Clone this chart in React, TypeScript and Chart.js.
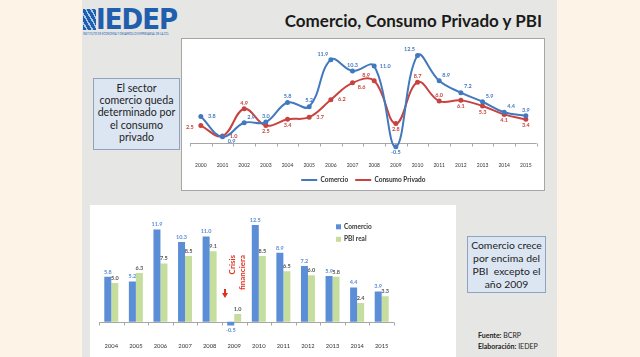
import React, { useEffect, useRef } from "react";
import { Chart, registerables } from "chart.js";

Chart.register(...registerables);

// ---------- DATA ----------
const lineYears = ["2000", "2001", "2002", "2003", "2004", "2005", "2006", "2007", "2008", "2009", "2010", "2011", "2012", "2013", "2014", "2015"];
const comercioLine = [3.8, 0.9, 2.9, 3.0, 5.8, 5.2, 11.9, 10.3, 11.0, -0.5, 12.5, 8.9, 7.2, 5.9, 4.4, 3.9];
const consumoPrivado = [2.5, 1.0, 4.9, 2.5, 3.4, 3.7, 6.2, 8.6, 8.9, 2.8, 8.7, 6.0, 6.1, 5.3, 4.1, 3.4];
const comercioLabelPos = ["r", "br", "tr", "t", "t", "t", "tl", "t", "r", "b", "tl", "tr", "tr", "tr", "tr", "t"];
const consumoLabelPos = ["l", "r", "t", "b", "b", "r", "r", "br", "tl", "b", "t", "t", "b", "b", "b", "b"];

const barYears = ["2004", "2005", "2006", "2007", "2008", "2009", "2010", "2011", "2012", "2013", "2014", "2015"];
const comercioBar = [5.8, 5.2, 11.9, 10.3, 11.0, -0.5, 12.5, 8.9, 7.2, 5.9, 4.4, 3.9];
const pbiReal = [5.0, 6.3, 7.5, 8.5, 9.1, 1.0, 8.5, 6.5, 6.0, 5.8, 2.4, 3.3];

// ---------- STYLE ----------
const BLUE_LINE = "#4279BE";
const RED_LINE = "#C8433F";
const BLUE_BAR = "#5B8ED6";
const GREEN_BAR = "#C5DE9E";
const FONT = "Lato, 'Open Sans', sans-serif";

const OFFSETS: Record<string, [number, number]> = {
  t: [0, -6],
  b: [0, 6],
  l: [-11, 2],
  r: [11, 0],
  tl: [-8, -6],
  tr: [7, -6],
  br: [9, 4],
};

// zero line + category tick marks
const zeroAxisPlugin = {
  id: "zeroAxis",
  beforeDatasetsDraw(chart: any) {
    const { ctx, chartArea, scales } = chart;
    const y0 = Math.round(scales.y.getPixelForValue(0)) + 0.5;
    const n = chart.data.labels.length;
    const w = (chartArea.right - chartArea.left) / n;
    ctx.save();
    ctx.strokeStyle = "#A6A6A6";
    ctx.lineWidth = 1;
    ctx.beginPath();
    ctx.moveTo(chartArea.left, y0);
    ctx.lineTo(chartArea.right, y0);
    for (let i = 0; i <= n; i++) {
      const x = Math.round(chartArea.left + i * w) + 0.5;
      ctx.moveTo(x, y0);
      ctx.lineTo(x, y0 + 3);
    }
    ctx.stroke();
    ctx.restore();
  },
};

type LabelSet = { color: string; font: string; pos?: string[] };

function makeLabelPlugin(sets: LabelSet[], mode: "line" | "bar") {
  return {
    id: "valueLabels",
    afterDatasetsDraw(chart: any) {
      const ctx = chart.ctx;
      chart.data.datasets.forEach((ds: any, di: number) => {
        const meta = chart.getDatasetMeta(di);
        const cfg = sets[di];
        ctx.save();
        ctx.font = cfg.font;
        ctx.fillStyle = cfg.color;
        ctx.textAlign = "center";
        ctx.textBaseline = "middle";
        meta.data.forEach((el: any, i: number) => {
          const v = ds.data[i] as number;
          let x = el.x;
          let y = el.y;
          if (mode === "bar") {
            y = v >= 0 ? el.y - 5 : el.y + 5;
          } else {
            const o = OFFSETS[(cfg.pos && cfg.pos[i]) || "t"];
            x += o[0];
            y += o[1];
          }
          ctx.fillText(v.toFixed(1), x, y);
        });
        ctx.restore();
      });
    },
  };
}

const barLegendPlugin = {
  id: "barLegend",
  afterDraw(chart: any) {
    const { ctx, chartArea } = chart;
    const x = chartArea.right - 58;
    chart.data.datasets.forEach((ds: any, i: number) => {
      const y = chartArea.top + 13.5 + i * 12.5;
      ctx.save();
      ctx.fillStyle = ds.backgroundColor;
      ctx.fillRect(x, y - 2.5, 5, 5);
      ctx.fillStyle = "#333";
      ctx.font = `bold 6.5px ${FONT}`;
      ctx.textAlign = "left";
      ctx.textBaseline = "middle";
      ctx.fillText(ds.label, x + 8, y);
      ctx.restore();
    });
  },
};

function LineChart() {
  const ref = useRef<HTMLCanvasElement>(null);
  useEffect(() => {
    const chart = new Chart(ref.current as HTMLCanvasElement, {
      type: "line",
      data: {
        labels: lineYears,
        datasets: [
          {
            label: "Comercio",
            data: comercioLine,
            borderColor: BLUE_LINE,
            backgroundColor: BLUE_LINE,
            borderWidth: 2,
            pointRadius: 1.5,
            pointBackgroundColor: BLUE_LINE,
            tension: 0.4,
          },
          {
            label: "Consumo Privado",
            data: consumoPrivado,
            borderColor: RED_LINE,
            backgroundColor: RED_LINE,
            borderWidth: 2,
            pointRadius: 1.5,
            pointBackgroundColor: RED_LINE,
            tension: 0.4,
          },
        ],
      },
      options: {
        responsive: false,
        animation: false,
        layout: { padding: { left: 8, right: 7.3, top: 5.6, bottom: 0.75 } },
        scales: {
          x: {
            offset: true,
            grid: { display: false, drawTicks: false },
            border: { display: false },
            ticks: { font: { family: FONT, size: 5 }, color: "#333", padding: 5.6, maxRotation: 0, autoSkip: false },
            afterFit: (s: any) => {
              s.height = 12.6;
            },
          },
          y: { display: false, min: -2, max: 14 },
        },
        plugins: {
          legend: {
            position: "bottom",
            labels: {
              usePointStyle: true,
              pointStyle: "line",
              pointStyleWidth: 16,
              padding: 7,
              color: "#333",
              font: { family: FONT, size: 6.5, weight: "bold" },
            },
          },
          tooltip: { enabled: false },
        },
      } as any,
      plugins: [
        zeroAxisPlugin,
        makeLabelPlugin(
          [
            { color: BLUE_LINE, font: `bold 5.5px ${FONT}`, pos: comercioLabelPos },
            { color: RED_LINE, font: `bold 5.5px ${FONT}`, pos: consumoLabelPos },
          ],
          "line"
        ),
      ],
    });
    return () => chart.destroy();
  }, []);
  return (
    <canvas
      ref={ref}
      width={362}
      height={155}
      style={{ position: "absolute", left: 182, top: 39, width: 362, height: 155 }}
    />
  );
}

function BarChart() {
  const ref = useRef<HTMLCanvasElement>(null);
  useEffect(() => {
    const chart = new Chart(ref.current as HTMLCanvasElement, {
      type: "bar",
      data: {
        labels: barYears,
        datasets: [
          {
            label: "Comercio",
            data: comercioBar,
            backgroundColor: BLUE_BAR,
            categoryPercentage: 0.57,
            barPercentage: 1,
          },
          {
            label: "PBI real",
            data: pbiReal,
            backgroundColor: GREEN_BAR,
            categoryPercentage: 0.57,
            barPercentage: 1,
          },
        ],
      },
      options: {
        responsive: false,
        animation: false,
        layout: { padding: { left: 9, right: 61, top: 8.3, bottom: 0 } },
        scales: {
          x: {
            grid: { display: false, drawTicks: false },
            border: { display: false },
            ticks: { font: { family: FONT, size: 5.8 }, color: "#333", padding: 9, maxRotation: 0, autoSkip: false },
            afterFit: (s: any) => {
              s.height = 23.7;
            },
          },
          y: { display: false, min: -1.5, max: 14 },
        },
        plugins: {
          legend: { display: false },
          tooltip: { enabled: false },
        },
      } as any,
      plugins: [
        zeroAxisPlugin,
        barLegendPlugin,
        makeLabelPlugin(
          [
            { color: BLUE_BAR, font: `bold 5.5px ${FONT}` },
            { color: "#555", font: `bold 5.5px ${FONT}` },
          ],
          "bar"
        ),
      ],
    });
    return () => chart.destroy();
  }, []);
  return (
    <canvas
      ref={ref}
      width={365}
      height={152}
      style={{ position: "absolute", left: 90, top: 205, width: 365, height: 152 }}
    />
  );
}

const boxStyle: React.CSSProperties = {
  position: "absolute",
  boxSizing: "border-box",
  background: "#DCE6F3",
  border: "1.5px solid #8FA3BE",
  color: "#222",
  textAlign: "center",
  display: "flex",
  alignItems: "center",
  justifyContent: "center",
  fontFamily: FONT,
  whiteSpace: "pre",
};

export default function App() {
  return (
    <div
      style={{
        position: "fixed",
        left: 0,
        top: 0,
        width: 640,
        height: 357,
        overflow: "hidden",
        background: "#FEF3E7",
        fontFamily: FONT,
      }}
    >
      {/* slide */}
      <div style={{ position: "absolute", left: 82, top: 0, width: 475, height: 357, background: "#E6E6E4" }} />

      {/* logo */}
      <div
        style={{
          position: "absolute",
          left: 83,
          top: 9,
          width: 13,
          height: 21,
          background: "repeating-linear-gradient(60deg, #1F5FAE 0px, #1F5FAE 3px, #A9CBEA 3px, #A9CBEA 4.5px)",
        }}
      />
      <div
        style={{
          position: "absolute",
          left: 96,
          top: 5,
          fontFamily: "'Liberation Sans Narrow', 'DejaVu Sans Condensed', sans-serif",
          fontWeight: 700,
          fontSize: 29,
          lineHeight: "29px",
          letterSpacing: -1,
          color: "#1F5FAE",
          whiteSpace: "nowrap",
        }}
      >
        IEDEP
      </div>
      <div
        style={{
          position: "absolute",
          left: 83,
          top: 33,
          fontSize: 6,
          lineHeight: "6px",
          color: "#1F5FAE",
          whiteSpace: "nowrap",
          transform: "scale(0.45)",
          transformOrigin: "left top",
        }}
      >
        INSTITUTO DE ECONOMÍA Y DESARROLLO EMPRESARIAL DE LA CCL
      </div>

      {/* title */}
      <div
        style={{
          position: "absolute",
          left: 245,
          top: 11,
          width: 297,
          textAlign: "right",
          fontSize: 17,
          lineHeight: "20px",
          fontWeight: 700,
          color: "#1A1A1A",
          whiteSpace: "nowrap",
        }}
      >
        Comercio, Consumo Privado y PBI
      </div>

      {/* line chart frame */}
      <div
        style={{
          position: "absolute",
          left: 181,
          top: 38,
          width: 364,
          height: 153,
          boxSizing: "border-box",
          border: "1px solid #A6A6A6",
          background: "#FFFFFF",
        }}
      />
      <LineChart />

      {/* bar chart frame */}
      <div style={{ position: "absolute", left: 90, top: 205, width: 366, height: 152, background: "#FFFFFF" }} />
      <BarChart />

      {/* crisis annotation */}
      <div
        style={{
          position: "absolute",
          left: 219,
          top: 263,
          width: 36,
          height: 20,
          transform: "rotate(-90deg)",
          transformOrigin: "center",
          fontSize: 8,
          lineHeight: "10px",
          fontWeight: 700,
          color: "#E0301E",
          textAlign: "right",
          whiteSpace: "nowrap",
        }}
      >
        Crisis
        <br />
        financiera
      </div>
      <div style={{ position: "absolute", left: 224, top: 289, width: 2, height: 5, background: "#E0301E" }} />
      <div
        style={{
          position: "absolute",
          left: 222,
          top: 293,
          width: 0,
          height: 0,
          borderLeft: "3px solid transparent",
          borderRight: "3px solid transparent",
          borderTop: "5px solid #E0301E",
        }}
      />

      {/* text boxes */}
      <div style={{ ...boxStyle, left: 93, top: 78, width: 87, height: 72, fontSize: 10.6, lineHeight: "12.1px", paddingBottom: 3 }}>
        <div>{"El sector\ncomercio queda\ndeterminado por\nel consumo\nprivado"}</div>
      </div>
      <div style={{ ...boxStyle, left: 467, top: 236, width: 79, height: 57, fontSize: 10.4, lineHeight: "13px" }}>
        <div>{"Comercio crece\npor encima del\nPBI  excepto el\naño 2009"}</div>
      </div>

      {/* source */}
      <div style={{ position: "absolute", left: 478, top: 330, fontSize: 7, lineHeight: "11px", color: "#222", whiteSpace: "nowrap" }}>
        <b>Fuente:</b> BCRP
        <br />
        <b>Elaboración:</b> IEDEP
      </div>
    </div>
  );
}
